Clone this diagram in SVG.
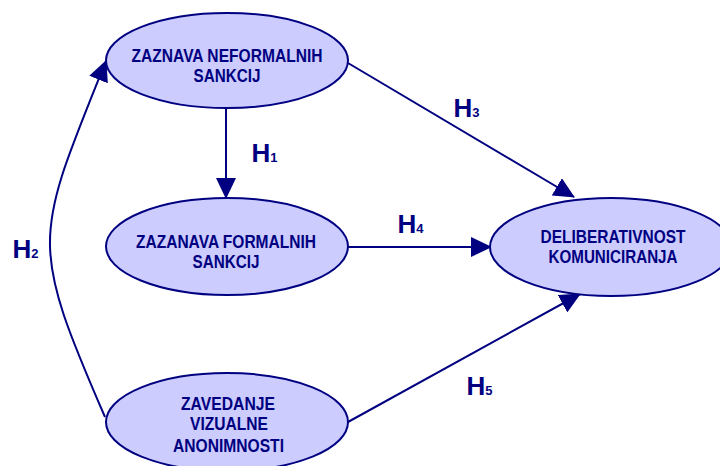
<svg xmlns="http://www.w3.org/2000/svg" width="720" height="466" viewBox="0 0 720 466">
<defs>
<marker id="arr" markerUnits="userSpaceOnUse" viewBox="0 0 21 20" markerWidth="21" markerHeight="20" refX="20" refY="10" orient="auto">
<path d="M0,0 L21,10 L0,20 Z" fill="#000080"/>
</marker>
<style>
.node ellipse{fill:#CCCCFF;stroke:#000080;stroke-width:2}
.node text{font-family:"Liberation Sans Narrow","Liberation Sans",Arial,sans-serif;font-weight:bold;font-size:18.5px;fill:#000080;text-anchor:middle}
.edges path{fill:none;stroke:#000080;stroke-width:2;marker-end:url(#arr)}
.lbl{font-family:"Liberation Sans Narrow","Liberation Sans",Arial,sans-serif;font-weight:bold;font-size:26px;fill:#000080}
.lbl tspan{font-size:13px}
</style>
</defs>
<rect width="720" height="466" fill="#FFFFFF"/>
<g class="edges" id="connectors">
<path d="M226,108 L226,198"/>
<path d="M348,63 L574,197"/>
<path d="M348,247 L491,247"/>
<path d="M348,422 L580,294"/>
<path d="M105,417 C28,240 35,238 106,61"/>
</g>
<g id="labels">
<text class="lbl" x="251.5" y="161.5">H<tspan>1</tspan></text>
<text class="lbl" x="12.5" y="258">H<tspan>2</tspan></text>
<text class="lbl" x="453.5" y="117">H<tspan>3</tspan></text>
<text class="lbl" x="397.5" y="233">H<tspan>4</tspan></text>
<text class="lbl" x="466.5" y="395">H<tspan>5</tspan></text>
</g>
<g class="node" id="n_neformalne">
<ellipse cx="227" cy="60.5" rx="121" ry="47.5"/>
<text x="227" y="62" textLength="191" lengthAdjust="spacingAndGlyphs">ZAZNAVA NEFORMALNIH</text>
<text x="227" y="82" textLength="67" lengthAdjust="spacingAndGlyphs">SANKCIJ</text>
</g>
<g class="node" id="n_formalne">
<ellipse cx="227" cy="246.5" rx="121" ry="48.5"/>
<text x="226" y="248" textLength="180" lengthAdjust="spacingAndGlyphs">ZAZANAVA FORMALNIH</text>
<text x="226" y="268" textLength="67" lengthAdjust="spacingAndGlyphs">SANKCIJ</text>
</g>
<g class="node" id="n_deliberativnost">
<ellipse cx="611" cy="247" rx="121" ry="49"/>
<text x="613" y="243" textLength="145" lengthAdjust="spacingAndGlyphs">DELIBERATIVNOST</text>
<text x="613" y="263" textLength="129" lengthAdjust="spacingAndGlyphs">KOMUNICIRANJA</text>
</g>
<g class="node" id="n_anonimnost">
<ellipse cx="227" cy="422" rx="121" ry="49"/>
<text x="228" y="410" textLength="94" lengthAdjust="spacingAndGlyphs">ZAVEDANJE</text>
<text x="229" y="430" textLength="78" lengthAdjust="spacingAndGlyphs">VIZUALNE</text>
<text x="228.5" y="452" textLength="111" lengthAdjust="spacingAndGlyphs">ANONIMNOSTI</text>
</g>
</svg>
